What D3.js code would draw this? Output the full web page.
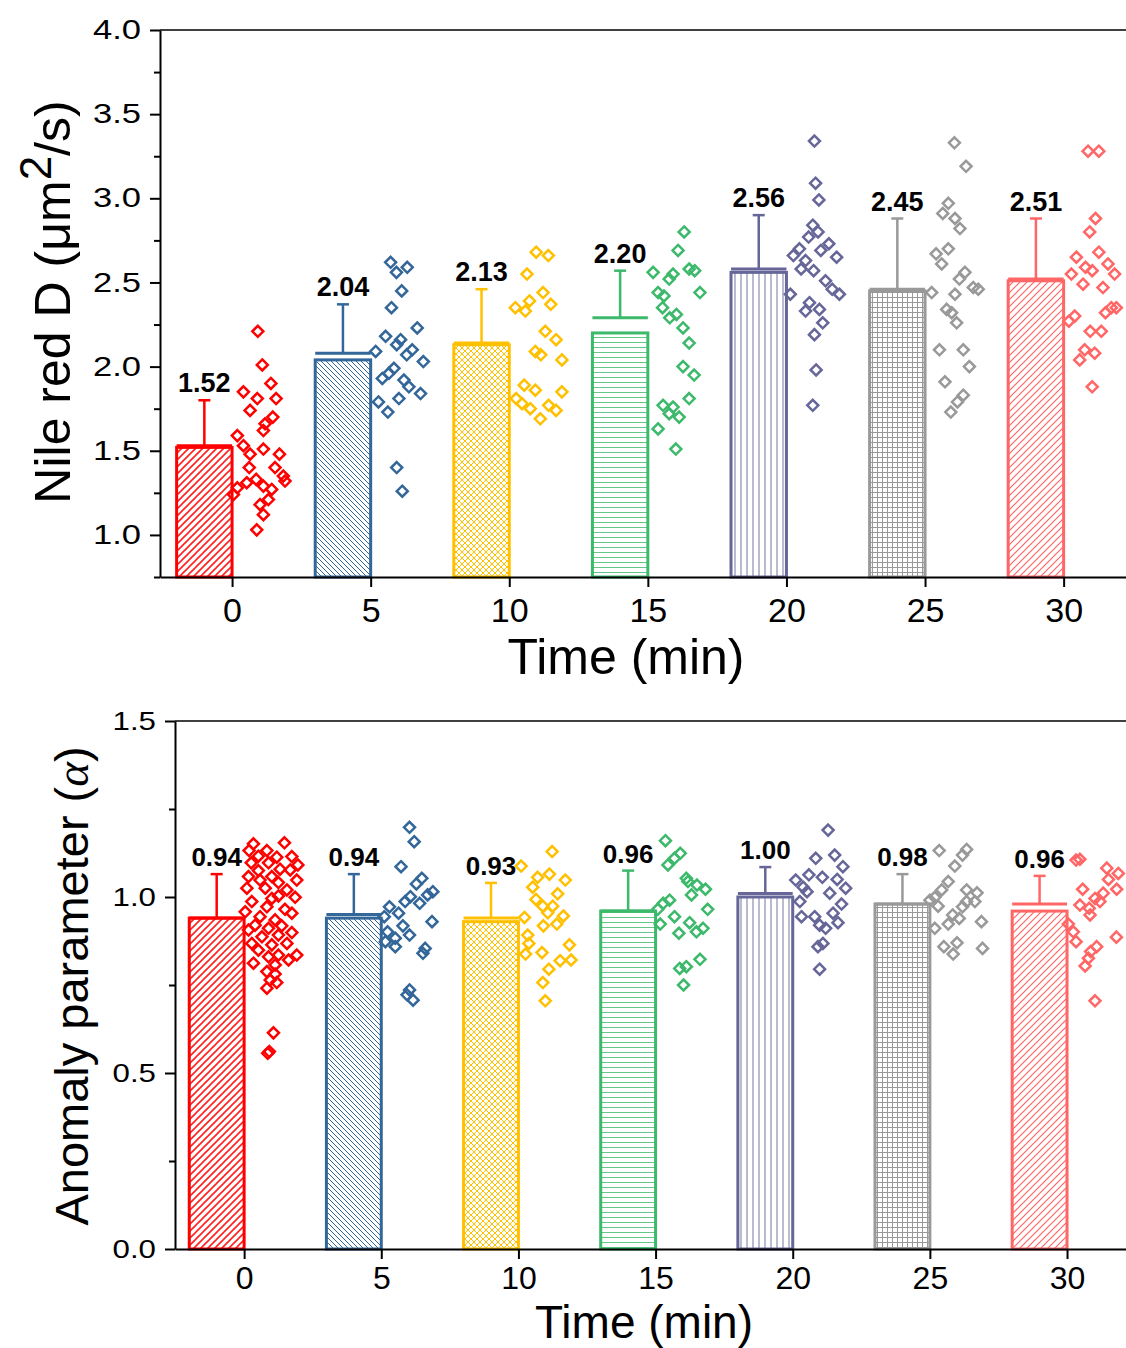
<!DOCTYPE html>
<html>
<head>
<meta charset="utf-8">
<script src="https://cdn.jsdelivr.net/npm/d3@7"></script>
<style>
  body { margin: 0; background: #fff; }
  text { font-family: "Liberation Sans", Arial, sans-serif; }
</style>
</head>
<body>
<svg id="chart"></svg>
<script>
const W = 1126, H = 1348;

const times = [0, 5, 10, 15, 20, 25, 30];
const colors = ["#ff0000", "#336699", "#ffc000", "#3cb96b", "#666699", "#999999", "#ff6666"];

// top panel: diffusion coefficient
const dMean = [1.52, 2.04, 2.13, 2.20, 2.56, 2.45, 2.51];
const dLine = [1.53, 2.08, 2.14, 2.29, 2.58, 2.46, 2.52];
const dSD = [0.27, 0.29, 0.32, 0.28, 0.32, 0.42, 0.36];
const dTicks = [1.0, 1.5, 2.0, 2.5, 3.0, 3.5, 4.0];
const dMinor = [0.75, 1.25, 1.75, 2.25, 2.75, 3.25, 3.75];
// each point: [offset in min, value]
const dPoints = [
  [[0.93,2.21],[1.09,2.01],[1.40,1.90],[0.41,1.85],[0.91,1.81],[1.59,1.81],[0.65,1.74],[1.47,1.70],[1.19,1.66],[1.13,1.62],
   [0.19,1.59],[0.41,1.53],[1.13,1.51],[1.71,1.48],[0.65,1.48],[1.55,1.40],[0.62,1.40],[1.85,1.35],[1.91,1.32],[0.87,1.33],
   [0.53,1.31],[0.19,1.28],[0.05,1.24],[1.13,1.29],[1.43,1.27],[1.31,1.21],[1.01,1.18],[1.13,1.12],[0.89,1.03]],
  [[0.72,2.62],[1.32,2.59],[0.93,2.56],[1.12,2.45],[0.75,2.35],[1.68,2.23],[0.54,2.18],[1.08,2.16],[0.94,2.13],[0.18,2.09],
   [1.50,2.10],[1.30,2.07],[1.90,2.03],[0.84,1.99],[0.66,1.96],[0.42,1.93],[1.20,1.92],[1.38,1.88],[1.80,1.84],[1.02,1.81],
   [0.28,1.79],[0.62,1.73],[0.94,1.40],[1.14,1.26]],
  [[0.97,2.68],[1.41,2.66],[0.64,2.55],[1.22,2.44],[0.73,2.39],[0.22,2.35],[1.50,2.37],[0.58,2.33],[1.30,2.21],[1.69,2.16],
   [0.94,2.09],[1.14,2.07],[1.90,2.04],[0.54,1.89],[0.94,1.86],[1.90,1.85],[0.25,1.81],[0.46,1.78],[0.76,1.75],[1.42,1.77],
   [1.69,1.74],[1.12,1.69]],
  [[1.31,2.80],[1.09,2.69],[0.19,2.56],[0.77,2.52],[0.91,2.55],[1.49,2.58],[1.69,2.57],[1.88,2.44],[0.37,2.44],[0.58,2.42],
   [0.53,2.35],[0.79,2.29],[1.03,2.31],[1.27,2.23],[1.49,2.14],[1.27,2.00],[1.67,1.95],[1.49,1.81],[0.55,1.77],[0.91,1.76],
   [0.77,1.72],[1.13,1.70],[0.37,1.63],[1.01,1.51]],
  [[1.01,3.34],[1.05,3.09],[1.17,2.99],[0.95,2.84],[1.14,2.80],[0.80,2.77],[1.53,2.73],[0.47,2.70],[1.24,2.69],[0.25,2.66],
   [1.81,2.65],[0.69,2.63],[0.53,2.58],[0.98,2.57],[1.41,2.51],[1.65,2.46],[1.91,2.43],[0.14,2.43],[0.83,2.38],[0.69,2.33],
   [1.19,2.34],[1.31,2.26],[1.01,2.19],[1.07,1.98],[0.95,1.77]],
  [[1.06,3.33],[1.48,3.19],[0.84,2.97],[0.64,2.91],[1.08,2.88],[1.26,2.82],[0.84,2.70],[0.40,2.67],[0.60,2.61],[1.44,2.56],
   [1.24,2.52],[1.74,2.47],[1.92,2.46],[0.24,2.44],[1.08,2.43],[0.78,2.34],[0.96,2.32],[1.14,2.26],[0.52,2.10],[1.38,2.10],
   [1.60,2.00],[0.72,1.91],[1.38,1.83],[1.17,1.79],[0.93,1.73]],
  [[0.88,3.28],[1.27,3.28],[1.15,2.88],[0.94,2.80],[1.27,2.68],[0.46,2.65],[1.60,2.61],[0.79,2.59],[1.03,2.57],[0.28,2.55],
   [1.84,2.55],[0.70,2.49],[1.42,2.47],[0.40,2.30],[0.19,2.27],[1.72,2.35],[1.90,2.35],[1.51,2.32],[0.96,2.21],[1.36,2.21],
   [0.76,2.10],[1.12,2.08],[0.58,2.04],[1.03,1.88]]
];

// bottom panel: anomaly parameter
const aMean = [0.94, 0.94, 0.93, 0.96, 1.00, 0.98, 0.96];
const aLine = [0.94, 0.95, 0.94, 0.96, 1.01, 0.98, 0.98];
const aSD = [0.125, 0.115, 0.10, 0.115, 0.075, 0.085, 0.08];
const aTicks = [0.0, 0.5, 1.0, 1.5];
const aMinor = [0.25, 0.75, 1.25];
const aPoints = [
  [[0.34,1.151],[1.47,1.154],[0.83,1.132],[0.18,1.132],[1.74,1.115],[0.52,1.116],[1.19,1.113],[0.26,1.097],[0.89,1.097],[1.96,1.091],
   [1.68,1.077],[0.52,1.075],[1.31,1.079],[0.16,1.058],[0.58,1.048],[1.01,1.058],[1.92,1.048],[0.10,1.025],[0.77,1.025],[1.56,1.020],
   [1.25,1.041],[1.86,0.999],[0.28,0.987],[1.01,0.996],[1.25,1.003],[0.04,0.958],[0.83,0.972],[1.74,0.954],[0.58,0.944],[1.49,0.965],
   [0.40,0.920],[1.13,0.935],[1.37,0.918],[0.16,0.906],[0.89,0.911],[1.74,0.899],[0.65,0.887],[1.25,0.892],[0.28,0.868],[1.01,0.864],
   [1.56,0.868],[0.52,0.849],[1.92,0.835],[1.25,0.835],[0.89,0.830],[0.34,0.812],[1.62,0.821],[1.13,0.807],[0.83,0.788],[1.13,0.781],
   [0.95,0.764],[1.19,0.757],[0.83,0.741],[1.07,0.614],[0.92,0.561],[0.86,0.556]],
  [[1.03,1.198],[1.20,1.157],[0.72,1.086],[1.48,1.053],[1.28,1.037],[1.88,1.015],[1.69,1.006],[1.06,1.001],[1.40,0.982],[0.87,0.987],
   [0.30,0.972],[0.63,0.954],[0.11,0.944],[1.85,0.930],[0.79,0.918],[1.03,0.892],[0.23,0.901],[0.51,0.883],[0.15,0.873],[0.51,0.859],
   [1.60,0.854],[1.52,0.840],[1.03,0.736],[0.94,0.722],[1.16,0.707]],
  [[1.23,1.129],[0.10,1.088],[1.13,1.065],[0.70,1.056],[1.71,1.048],[0.52,1.028],[1.43,1.009],[0.64,0.993],[1.25,0.974],[0.89,0.974],
   [1.07,0.955],[0.22,0.942],[1.64,0.946],[1.40,0.923],[0.91,0.918],[0.34,0.892],[0.38,0.868],[1.86,0.864],[0.86,0.842],[0.26,0.838],
   [1.92,0.821],[1.52,0.819],[1.11,0.795],[0.89,0.757],[0.98,0.705]],
  [[0.36,1.160],[0.90,1.124],[0.69,1.110],[0.45,1.091],[1.12,1.053],[1.18,1.044],[1.51,1.034],[1.82,1.022],[1.31,1.006],[0.51,0.991],
   [0.28,0.982],[1.90,0.965],[0.08,0.965],[0.69,0.944],[1.24,0.927],[0.17,0.923],[1.73,0.911],[1.49,0.901],[0.85,0.897],[1.62,0.823],
   [0.88,0.797],[1.12,0.802],[1.02,0.750]],
  [[1.29,1.190],[0.84,1.110],[1.53,1.119],[1.83,1.086],[0.59,1.063],[0.11,1.048],[1.08,1.056],[1.62,1.050],[0.38,1.028],[1.93,1.025],
   [1.35,1.011],[0.52,1.015],[0.26,0.987],[1.78,0.980],[1.47,0.954],[0.32,0.944],[0.80,0.944],[1.65,0.927],[0.98,0.920],[1.20,0.911],
   [1.10,0.868],[0.92,0.859],[0.98,0.795]],
  [[0.34,1.132],[1.34,1.135],[1.19,1.119],[0.91,1.088],[0.67,1.044],[0.43,1.020],[1.34,1.020],[1.72,1.012],[0.18,0.999],[1.64,0.987],
   [1.34,0.987],[0.00,0.991],[1.19,0.972],[0.30,0.974],[0.83,0.949],[1.07,0.939],[0.67,0.923],[1.88,0.930],[0.18,0.911],[0.51,0.859],
   [0.99,0.870],[0.85,0.838],[1.92,0.854]],
  [[0.33,1.105],[0.47,1.107],[1.45,1.082],[1.87,1.067],[1.51,1.050],[0.57,1.022],[1.81,1.022],[1.32,1.011],[1.02,0.996],[1.20,0.987],
   [0.47,0.977],[0.81,0.968],[0.84,0.949],[0.05,0.923],[0.23,0.901],[0.33,0.873],[1.80,0.886],[1.08,0.859],[0.86,0.845],[0.78,0.826],
   [0.66,0.804],[1.02,0.705]]
];

const svg = d3.select("#chart").attr("width", W).attr("height", H);
const defs = svg.append("defs");

// hatch fills, one per time point
const makePattern = (id, size, color, paths, sw, op) => {
    const p = defs.append("pattern").attr("id", id)
        .attr("patternUnits", "userSpaceOnUse")
        .attr("width", size).attr("height", size);
    p.append("rect").attr("width", size).attr("height", size).attr("fill", "#ffffff");
    p.append("path").attr("d", paths)
        .style("stroke", color)
        .style("stroke-width", sw).style("stroke-opacity", op).style("fill", "none");
};
const fwd = s => `M0,${s} L${s},0 M${-s/2},${s/2} L${s/2},${-s/2} M${s/2},${1.5*s} L${1.5*s},${s/2}`;
const back = s => `M0,0 L${s},${s} M${-s/2},${s/2} L${s/2},${1.5*s} M${s/2},${-s/2} L${1.5*s},${s/2}`;
makePattern("hatch-red", 7, "#ff2020", fwd(7), 1.6, 1);
makePattern("hatch-blue", 5, colors[1], back(5), 1, 1);
makePattern("hatch-yellow", 6, colors[2], fwd(6) + back(6), 1, 1);
makePattern("hatch-green", 5, colors[3], "M0,2.5 L5,2.5", 1, 0.8);
makePattern("hatch-purple", 6, colors[4], "M3,0 L3,6", 1, 0.9);
makePattern("hatch-gray", 5, colors[5], "M2.5,0 L2.5,5 M0,2.5 L5,2.5", 1, 1);
makePattern("hatch-salmon", 7, colors[6], fwd(7), 1.2, 1);
const hatchIds = ["hatch-red", "hatch-blue", "hatch-yellow", "hatch-green", "hatch-purple", "hatch-gray", "hatch-salmon"];

const diamond = r => `M0,${-r} L${r},0 L0,${r} L${-r},0 Z`;

const drawPanel = p => {
    const g = svg.append("g");
    const x = d3.scaleLinear().domain(p.xDom).range([p.left, W]);
    const y = d3.scaleLinear().domain(p.yDom).range([p.bottom, p.top]);
    const base = p.yDom[0];

    // bars
    times.forEach((t, i) => {
        g.append("rect")
         .attr("x", x(t - 2)).attr("y", y(p.mean[i]))
         .attr("width", x(t) - x(t - 2))
         .attr("height", y(base) - y(p.mean[i]))
         .attr("fill", `url(#${hatchIds[i]})`)
         .attr("stroke", colors[i]).attr("stroke-width", 3);
        g.append("line")
         .attr("x1", x(t - 2)).attr("x2", x(t))
         .attr("y1", y(p.line[i])).attr("y2", y(p.line[i]))
         .attr("stroke", colors[i]).attr("stroke-width", 3);
        const top = p.line[i] + p.sd[i];
        g.append("line")
         .attr("x1", x(t - 1)).attr("x2", x(t - 1))
         .attr("y1", y(p.line[i])).attr("y2", y(top))
         .attr("stroke", colors[i]).attr("stroke-width", 2.5);
        g.append("line")
         .attr("x1", x(t - 1) - 6).attr("x2", x(t - 1) + 6)
         .attr("y1", y(top)).attr("y2", y(top))
         .attr("stroke", colors[i]).attr("stroke-width", 2.5);
        g.append("text")
         .attr("x", x(t - 1)).attr("y", y(top) - 8)
         .attr("text-anchor", "middle")
         .attr("font-size", p.labelSize).attr("font-weight", "bold")
         .text(d3.format(".2f")(p.mean[i]));
    });

    // raw points
    times.forEach((t, i) => {
        g.selectAll(null)
         .data(p.points[i])
         .enter()
         .append("path")
         .attr("d", diamond(5.5))
         .attr("transform", d => `translate(${x(t + d[0])},${y(d[1])})`)
         .attr("fill", "none")
         .attr("stroke", colors[i])
         .attr("stroke-width", 2.5);
    });

    // axes
    const yAxis = g.append("g").attr("transform", `translate(${p.left},0)`)
        .call(d3.axisLeft(y).tickValues(p.yTicks).tickSize(10).tickSizeOuter(0)
              .tickPadding(9).tickFormat(d3.format(".1f")));
    yAxis.selectAll("text")
         .attr("font-size", p.yTickSize).attr("fill", "#000")
         .attr("x", -19 / p.yStretch)
         .attr("transform", `scale(${p.yStretch},1)`);
    g.append("g").attr("transform", `translate(${p.left},0)`)
        .call(d3.axisLeft(y).tickValues(p.yMinor).tickSize(6).tickFormat(""))
        .select(".domain").remove();

    const xAxis = g.append("g").attr("transform", `translate(0,${p.bottom})`)
        .call(d3.axisBottom(x).tickValues(times).tickSize(10).tickSizeOuter(0).tickPadding(p.xTickPad));
    xAxis.selectAll("text").attr("font-size", p.xTickSize).attr("fill", "#000");

    g.selectAll(".domain, .tick line").attr("stroke", "#000").attr("stroke-width", 2);

    g.append("line")
     .attr("x1", p.left).attr("x2", W)
     .attr("y1", p.top).attr("y2", p.top)
     .attr("stroke", "#000").attr("stroke-width", 1.5);

    g.append("text")
     .attr("x", p.xTitlePos[0]).attr("y", p.xTitlePos[1])
     .attr("text-anchor", "middle").attr("font-size", p.titleSize)
     .text("Time (min)");
    return g;
};

const gTop = drawPanel({
    xDom: [-2.6, 32.25], yDom: [0.75, 4.0],
    left: 160, top: 30, bottom: 577,
    mean: dMean, line: dLine, sd: dSD, points: dPoints,
    yTicks: dTicks, yMinor: dMinor,
    labelSize: 27, yTickSize: 27, yStretch: 1.28, xTickSize: 34, xTickPad: 11, titleSize: 50,
    xTitlePos: [626, 674]
});
gTop.append("text")
    .attr("transform", "translate(70,302) rotate(-90)")
    .attr("text-anchor", "middle").attr("font-size", 50)
    .call(t => {
        t.append("tspan").text("Nile red D (");
        t.append("tspan").text("\u03bcm");
        t.append("tspan").attr("dy", -19).attr("font-size", 44).text("2");
        t.append("tspan").attr("dy", 19).text("/s)");
    });

const gBot = drawPanel({
    xDom: [-2.52, 32.15], yDom: [0, 1.5],
    left: 175, top: 721, bottom: 1249,
    mean: aMean, line: aLine, sd: aSD, points: aPoints,
    yTicks: aTicks, yMinor: aMinor,
    labelSize: 26, yTickSize: 25, yStretch: 1.25, xTickSize: 32, xTickPad: 7, titleSize: 46,
    xTitlePos: [644, 1338]
});
gBot.append("text")
    .attr("transform", "translate(88,986) rotate(-90)")
    .attr("text-anchor", "middle").attr("font-size", 47)
    .call(t => {
        t.append("tspan").text("Anomaly parameter (");
        t.append("tspan").attr("font-family", "Liberation Serif, serif").attr("font-style", "italic").text("\u03b1");
        t.append("tspan").text(")");
    });
</script>
</body>
</html>
